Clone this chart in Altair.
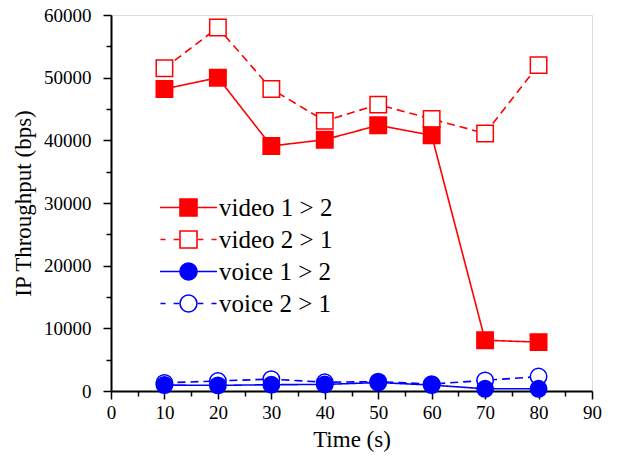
import altair as alt
import pandas as pd

# ---- data ----
times = [10, 20, 30, 40, 50, 60, 70, 80]
video_1_2 = [48200, 50000, 39100, 40100, 42400, 40800, 8100, 7800]
video_2_1 = [51500, 58000, 48200, 43100, 45700, 43400, 41100, 52000]
voice_1_2 = [950, 900, 1000, 1050, 1350, 950, 350, 350]
voice_2_1 = [1300, 1600, 1900, 1400, 1500, 1100, 1700, 2300]

series_names = ["video 1 > 2", "video 2 > 1", "voice 1 > 2", "voice 2 > 1"]
series_values = [video_1_2, video_2_1, voice_1_2, voice_2_1]
draw_rank = [3, 1, 4, 2]

x_major = [0, 10, 20, 30, 40, 50, 60, 70, 80, 90]
x_minor = [5, 15, 25, 35, 45, 55, 65, 75, 85]
y_major = [0, 10000, 20000, 30000, 40000, 50000, 60000]
y_minor = [5000, 15000, 25000, 35000, 45000, 55000]

# ---- styles ----
line_colors = ["#ff0000", "#ff0000", "#0000ff", "#0000ff"]
fill_colors = ["#ff0000", "#ffffff", "#0000ff", "#ffffff"]
marker_shapes = ["square", "square", "circle", "circle"]
dash_styles = [[1, 0], [8, 5], [1, 0], [8, 5]]
legend_paths = [
    "M -3.35 0 H -1 M 1 0 H 3.35 M -1 -1 H 1 V 1 H -1 Z",
    "M -3.3 0 H -2.7 M -1.75 0 H -1.12 M 1.12 0 H 1.75 M 2.7 0 H 3.3 M -1 -1 H 1 V 1 H -1 Z",
    "M -3.35 0 H -1 M 1 0 H 3.35 M -1 0 A 1 1 0 1 0 1 0 A 1 1 0 1 0 -1 0 Z",
    "M -3.3 0 H -2.7 M -1.75 0 H -1.12 M 1.12 0 H 1.75 M 2.7 0 H 3.3 M -1 0 A 1 1 0 1 0 1 0 A 1 1 0 1 0 -1 0 Z",
]

FONT = "'Liberation Serif', 'Times New Roman', Times, serif"

rows = []
for name, vals, rk in zip(series_names, series_values, draw_rank):
    for t, v in zip(times, vals):
        rows.append({"time": t, "value": v, "series": name, "rank": rk})
df = pd.DataFrame(rows)
df_points = df.sort_values(["rank", "time"]).reset_index(drop=True)

x_scale = alt.Scale(domain=[0, 90], nice=False, zero=False)
y_scale = alt.Scale(domain=[0, 60000], nice=False)

major_x_axis = alt.Axis(values=x_major, title="Time (s)", grid=False, tickSize=8,
                        tickWidth=1.5, domainWidth=2, labelFontSize=19, labelFont=FONT,
                        titleFont=FONT, titleFontSize=23, titleFontWeight="normal",
                        labelPadding=4, titlePadding=6, labelColor="black",
                        titleColor="black", domainColor="black", tickColor="black",
                        orient="bottom", labelFlush=False, labelOverlap=False)
major_y_axis = alt.Axis(values=y_major, title="IP Throughput (bps)", grid=False, tickSize=8,
                        tickWidth=1.5, domainWidth=2, labelFontSize=19, labelFont=FONT,
                        titleFont=FONT, titleFontSize=23, titleFontWeight="normal",
                        labelPadding=12, titlePadding=8, format="d", labelColor="black",
                        titleColor="black", domainColor="black", tickColor="black",
                        orient="left", labelFlush=False, labelOverlap=False)
minor_x_axis = alt.Axis(values=x_minor, title=None, grid=False, labels=False, domain=False,
                        tickSize=5, tickWidth=1.5, tickColor="black", orient="bottom")
minor_y_axis = alt.Axis(values=y_minor, title=None, grid=False, labels=False, domain=False,
                        tickSize=5, tickWidth=1.5, tickColor="black", orient="left")

lines = alt.Chart(df).mark_line(strokeWidth=1.6).encode(
    x=alt.X("time:Q", scale=x_scale, axis=major_x_axis),
    y=alt.Y("value:Q", scale=y_scale, axis=major_y_axis),
    color=alt.Color("series:N", scale=alt.Scale(domain=series_names, range=line_colors), legend=None),
    strokeDash=alt.StrokeDash("series:N", scale=alt.Scale(domain=series_names, range=dash_styles), legend=None),
)

points = alt.Chart(df_points).mark_point(size=270, strokeWidth=1.5, opacity=1).encode(
    x=alt.X("time:Q", scale=x_scale, axis=None),
    y=alt.Y("value:Q", scale=y_scale, axis=None),
    shape=alt.Shape("series:N", scale=alt.Scale(domain=series_names, range=marker_shapes), legend=None),
    fill=alt.Fill("series:N", scale=alt.Scale(domain=series_names, range=fill_colors), legend=None),
    stroke=alt.Stroke("series:N", scale=alt.Scale(domain=series_names, range=line_colors), legend=None),
)

legend_props = dict(orient="none", legendX=45, legendY=180, title=None, symbolSize=289,
                    symbolStrokeWidth=1.6, labelFont=FONT, labelFontSize=25, labelColor="black",
                    labelOffset=18, symbolOffset=20, rowPadding=6, padding=0, labelLimit=300)

legend_layer = alt.Chart(df).mark_point(size=289, strokeWidth=1.6, opacity=1).encode(
    x=alt.X("time:Q", scale=x_scale, axis=None),
    y=alt.Y("value:Q", scale=y_scale, axis=None),
    shape=alt.Shape("series:N", scale=alt.Scale(domain=series_names, range=legend_paths),
                    legend=alt.Legend(**legend_props)),
    fill=alt.Fill("series:N", scale=alt.Scale(domain=series_names, range=fill_colors),
                  legend=alt.Legend(**legend_props)),
    stroke=alt.Stroke("series:N", scale=alt.Scale(domain=series_names, range=line_colors),
                      legend=alt.Legend(**legend_props)),
).transform_filter("datum.time < 0")

minor_ticks = alt.Chart(df).mark_point(size=0, opacity=0).encode(
    x=alt.X("time:Q", scale=x_scale, axis=minor_x_axis),
    y=alt.Y("value:Q", scale=y_scale, axis=minor_y_axis),
)

chart = alt.layer(lines, points, legend_layer, minor_ticks).resolve_scale(
    color="independent", fill="independent", stroke="independent",
    shape="independent", strokeDash="independent",
).resolve_axis(x="independent", y="independent").resolve_legend(
    color="independent", fill="independent", stroke="independent",
    shape="independent", strokeDash="independent",
).properties(
    width=481, height=376,
    autosize=alt.AutoSizeParams(type="none"),
    padding={"left": 111, "top": 15, "right": 40, "bottom": 68},
).configure_view(stroke=None).configure(background="white")

chart.save("out.html", embed_options={"renderer": "svg", "actions": False})
